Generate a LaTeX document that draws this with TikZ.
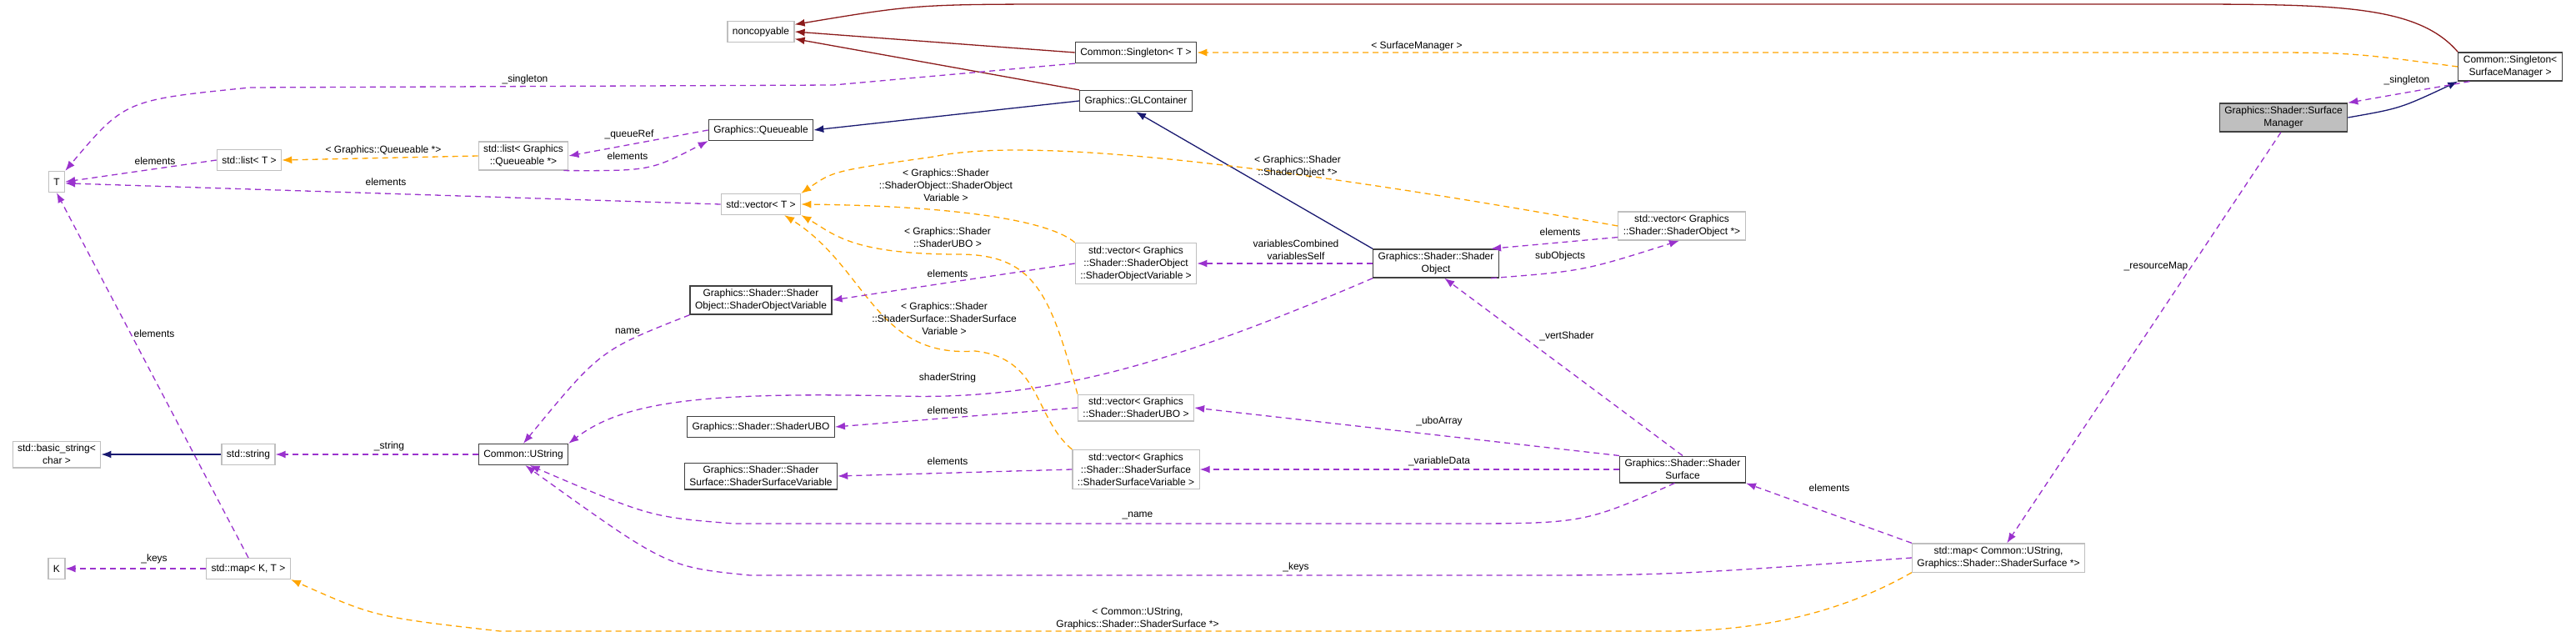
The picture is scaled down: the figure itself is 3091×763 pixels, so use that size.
\documentclass[tikz,border=0pt]{standalone}
\usepackage{fontspec}
\setmainfont{Liberation Sans}
\usetikzlibrary{arrows.meta}
\definecolor{inhred}{HTML}{8B1A1A}
\definecolor{pubblue}{HTML}{191970}
\definecolor{usepurple}{HTML}{9A32CD}
\definecolor{tplorange}{HTML}{FFA500}
\definecolor{boxgray}{HTML}{BFBFBF}
\begin{document}
\begin{tikzpicture}[x=1pt,y=-1pt,
    >={Latex[length=12pt,width=9pt]},
    every node/.style={font=\fontsize{12}{15}\selectfont},
    cls/.style={draw=boxgray,line width=1.2pt,fill=white,align=center,
                minimum height=25pt,inner xsep=6pt,inner ysep=4pt},
    clsb/.style={cls,draw=black!75},
    inh/.style={->,draw=inhred,line width=1.3pt},
    pub/.style={->,draw=pubblue,line width=1.3pt},
    use/.style={->,draw=usepurple,line width=1.3pt,dash pattern=on 7pt off 5pt},
    tpl/.style={->,draw=tplorange,line width=1.3pt,dash pattern=on 7pt off 5pt},
    lbl/.style={inner sep=1pt,align=center}]
    \useasboundingbox (0,0) rectangle (3091,763);

    % Classes
    \node[cls]  at (913,38)   (noncop)  {noncopyable};
    \node[clsb] at (1363,63)  (singT)   {Common::Singleton< T >};
    \node[clsb] at (1363,121) (glcont)  {Graphics::GLContainer};
    \node[clsb] at (913,156)  (queue)   {Graphics::Queueable};
    \node[cls]  at (628,187)  (listQ)   {std::list< Graphics\\::Queueable *>};
    \node[cls]  at (299,192)  (listT)   {std::list< T >};
    \node[cls]  at (68,218)   (T)       {T};
    \node[cls]  at (913,245)  (vecT)    {std::vector< T >};
    \node[clsb] at (913,360)  (sov)     {Graphics::Shader::Shader\\Object::ShaderObjectVariable};
    \node[cls]  at (1363,316) (vecSOV)  {std::vector< Graphics\\::Shader::ShaderObject\\::ShaderObjectVariable >};
    \node[clsb] at (1723,316) (shobj)   {Graphics::Shader::Shader\\Object};
    \node[cls]  at (2018,271) (vecSO)   {std::vector< Graphics\\::Shader::ShaderObject *>};
    \node[clsb] at (3012,80)  (singSM)  {Common::Singleton<\\SurfaceManager >};
    \node[clsb,fill=boxgray] at (2740,141) (surfman) {Graphics::Shader::Surface\\Manager};
    \node[cls]  at (68,545)   (bstring) {std::basic\_string<\\char >};
    \node[cls]  at (298,545)  (stdstr)  {std::string};
    \node[clsb] at (628,545)  (ustring) {Common::UString};
    \node[clsb] at (913,512)  (ubo)     {Graphics::Shader::ShaderUBO};
    \node[clsb] at (913,571)  (ssv)     {Graphics::Shader::Shader\\Surface::ShaderSurfaceVariable};
    \node[cls]  at (1363,489) (vecUBO)  {std::vector< Graphics\\::Shader::ShaderUBO >};
    \node[cls]  at (1363,563) (vecSSV)  {std::vector< Graphics\\::Shader::ShaderSurface\\::ShaderSurfaceVariable >};
    \node[clsb] at (2019,563) (shsurf)  {Graphics::Shader::Shader\\Surface};
    \node[cls]  at (68,682)   (K)       {K};
    \node[cls]  at (298,682)  (mapKT)   {std::map< K, T >};
    \node[cls]  at (2398,669) (mapUS)   {std::map< Common::UString,\\Graphics::Shader::ShaderSurface *>};

    % Inheritance
    \draw[inh] (singT.west) -- (noncop.0);
    \draw[inh] (glcont.north west) -- (noncop.-12);
    \draw[inh] (singSM.north west) .. controls (2900,5) and (2800,5) .. (2600,5)
        -- (1300,5) .. controls (1100,5) .. (noncop.12);
    \draw[pub] (glcont.west) -- (queue.east);
    \draw[pub] (shobj.north west) -- (glcont.south);
    \draw[pub] (stdstr.west) -- (bstring.east);
    \draw[pub] (surfman.east) .. controls (2880,130) .. (singSM.south west);

    % Template instances
    \draw[tpl] (singSM.west) .. controls (2820,63) .. (2700,63) -- (singT.east);
    \draw[tpl] (listQ.west) -- (listT.east);
    \draw[tpl] (vecSO.west) .. controls (1600,210) and (1250,160) .. (1120,188)
        .. controls (1000,205) .. (vecT.north east);
    \draw[tpl] (vecSOV.north west) .. controls (1260,265) and (1150,247) .. (vecT.east);
    \draw[tpl] (vecUBO.north west) .. controls (1260,350) and (1240,305) .. (1150,305)
        .. controls (1020,305) and (1000,280) .. (vecT.south east);
    \draw[tpl] (vecSSV.north west) .. controls (1240,500) and (1250,430) .. (1170,421)
        .. controls (1050,430) and (1040,320) .. (vecT.-25);
    \draw[tpl] (mapUS.south west) .. controls (2200,740) and (2100,757) .. (2000,757)
        -- (600,757) .. controls (450,740) .. (mapKT.south east);

    % Usage
    \draw[use] (singT.south west) -- (1000,102) -- (300,105) .. controls (150,120) .. (T.north east);
    \draw[use] (listT.west) -- (T.east);
    \draw[use] (vecT.west) -- (T.-10);
    \draw[use] (mapKT.north) -- (T.south);
    \draw[use] (mapKT.west) -- (K.east);
    \draw[use] (queue.west) -- (listQ.east);
    \draw[use] (listQ.-20) .. controls (780,205) .. (queue.south west);
    \draw[use] (sov.south west) .. controls (720,420) .. (ustring.north);
    \draw[use] (vecSOV.west) -- (sov.east);
    \draw[use] (shobj.west) -- (vecSOV.east);
    \draw[use] (vecSO.-170) -- (shobj.15);
    \draw[use] (shobj.-15) .. controls (1900,325) .. (vecSO.-100);
    \draw[use] (shobj.south west) .. controls (1400,440) and (1250,480) .. (1080,475)
        .. controls (850,470) and (750,480) .. (ustring.north east);
    \draw[use] (vecUBO.west) -- (ubo.east);
    \draw[use] (vecSSV.west) -- (ssv.east);
    \draw[use] (ustring.west) -- (stdstr.east);
    \draw[use] (shsurf.north west) -- (vecUBO.east);
    \draw[use] (shsurf.west) -- (vecSSV.east);
    \draw[use] (shsurf.north) -- (shobj.-60);
    \draw[use] (shsurf.-120) .. controls (1900,628) .. (1740,628) -- (880,628)
        .. controls (780,620) .. (ustring.-60);
    \draw[use] (mapUS.west) .. controls (2000,690) .. (1800,690) -- (900,690)
        .. controls (800,680) .. (ustring.-80);
    \draw[use] (mapUS.north west) -- (shsurf.south east);
    \draw[use] (surfman.-100) -- (mapUS.60);
    \draw[use] (singSM.-160) -- (surfman.north east);

    % Labels
    \node[lbl] at (1700,55)  (l1)  {< SurfaceManager >};
    \node[lbl] at (460,180)  (l2)  {< Graphics::Queueable *>};
    \node[lbl] at (1557,200) (l3)  {< Graphics::Shader\\::ShaderObject *>};
    \node[lbl] at (1135,222) (l4)  {< Graphics::Shader\\::ShaderObject::ShaderObject\\Variable >};
    \node[lbl] at (1137,285) (l5)  {< Graphics::Shader\\::ShaderUBO >};
    \node[lbl] at (1133,382) (l6)  {< Graphics::Shader\\::ShaderSurface::ShaderSurface\\Variable >};
    \node[lbl] at (1365,742) (l7)  {< Common::UString,\\Graphics::Shader::ShaderSurface *>};
    \node[lbl] at (630,95)   (l8)  {\_singleton};
    \node[lbl] at (186,193)  (l9)  {elements};
    \node[lbl] at (463,218)  (l10) {elements};
    \node[lbl] at (185,400)  (l11) {elements};
    \node[lbl] at (185,670)  (l12) {\_keys};
    \node[lbl] at (755,161)  (l13) {\_queueRef};
    \node[lbl] at (753,187)  (l14) {elements};
    \node[lbl] at (753,397)  (l15) {name};
    \node[lbl] at (1137,328) (l16) {elements};
    \node[lbl] at (1555,300) (l17) {variablesCombined\\variablesSelf};
    \node[lbl] at (1872,278) (l18) {elements};
    \node[lbl] at (1872,307) (l19) {subObjects};
    \node[lbl] at (1137,453) (l20) {shaderString};
    \node[lbl] at (1137,492) (l21) {elements};
    \node[lbl] at (1137,553) (l22) {elements};
    \node[lbl] at (467,535)  (l23) {\_string};
    \node[lbl] at (1727,505) (l24) {\_uboArray};
    \node[lbl] at (1727,553) (l25) {\_variableData};
    \node[lbl] at (1880,403) (l26) {\_vertShader};
    \node[lbl] at (1365,618) (l27) {\_name};
    \node[lbl] at (1555,680) (l28) {\_keys};
    \node[lbl] at (2195,585) (l29) {elements};
    \node[lbl] at (2587,320) (l30) {\_resourceMap};
    \node[lbl] at (2888,96)  (l31) {\_singleton};
\end{tikzpicture}
\end{document}
